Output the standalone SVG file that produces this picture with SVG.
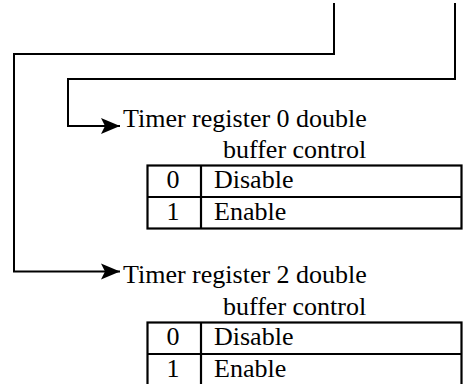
<svg xmlns="http://www.w3.org/2000/svg" width="463" height="384" viewBox="0 0 463 384">
<style>
text{font-family:"Liberation Serif","Times New Roman",serif;font-size:26px;fill:#000}
.ln{fill:none;stroke:#000;stroke-width:2}
.tb{fill:none;stroke:#000;stroke-width:2.2}
.c{text-anchor:middle}
</style>
<defs>
<marker id="ah" markerUnits="userSpaceOnUse" markerWidth="20" markerHeight="18" viewBox="0 0 20 18" refX="19" refY="9" orient="auto">
<path d="M0,1 L19,9 L0,17 L4,9 Z" fill="#000"/>
</marker>
</defs>
<g id="connectors">
<path class="ln" d="M455,3 V79 H68 V126 H120" marker-end="url(#ah)"/>
<path class="ln" d="M334,3 V54 H14 V271.5 H120" marker-end="url(#ah)"/>
</g>
<g id="reg0">
<text x="123" y="127">Timer register 0 double</text>
<text x="223" y="158">buffer control</text>
<rect class="tb" x="147.5" y="165.5" width="314" height="63"/>
<line class="tb" x1="147.5" y1="197" x2="461.5" y2="197"/>
<line class="tb" x1="201" y1="165.5" x2="201" y2="228.5"/>
<text class="c" x="173" y="188">0</text>
<text x="214" y="188">Disable</text>
<text class="c" x="173" y="220">1</text>
<text x="214" y="220">Enable</text>
</g>
<g id="reg2">
<text x="123" y="283">Timer register 2 double</text>
<text x="223" y="315">buffer control</text>
<rect class="tb" x="147.5" y="322.5" width="314" height="63"/>
<line class="tb" x1="147.5" y1="354" x2="461.5" y2="354"/>
<line class="tb" x1="201" y1="322.5" x2="201" y2="385.5"/>
<text class="c" x="173" y="345">0</text>
<text x="214" y="345">Disable</text>
<text class="c" x="173" y="377">1</text>
<text x="214" y="377">Enable</text>
</g>
</svg>
